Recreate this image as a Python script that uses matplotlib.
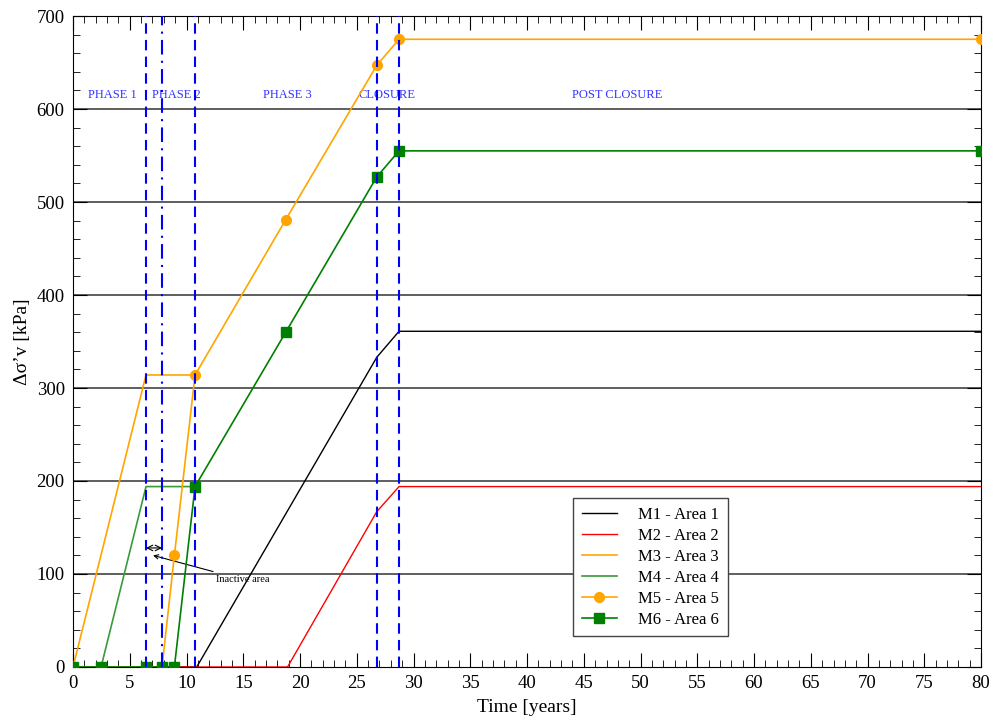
import matplotlib.pyplot as plt
from matplotlib.ticker import MultipleLocator

plt.rcParams['font.family'] = ['Liberation Serif', 'DejaVu Serif']

# phase boundaries [years]
t_dash = [6.43, 10.75, 26.76, 28.72]
t_dashdot = 7.84

t_m1 = [0, 10.9, 26.76, 28.72, 80]
m1 = [0, 0, 333, 361, 361]
t_m2 = [0, 18.9, 26.76, 28.72, 80]
m2 = [0, 0, 167, 194, 194]
t_m3 = [0, 6.43, 10.75]
m3 = [0, 314, 314]
t_m4 = [0, 2.47, 6.43, 10.75]
m4 = [0, 0, 194, 194]
t_m5 = [0, 2.47, 6.43, 7.84, 8.93, 10.75, 18.74, 26.76, 28.72, 80]
m5 = [0, 0, 0, 0, 120, 314, 481, 647, 675, 675]
t_m6 = [0, 2.47, 6.43, 7.84, 8.93, 10.75, 18.74, 26.76, 28.72, 80]
m6 = [0, 0, 0, 0, 0, 194, 360, 527, 555, 555]

phases = ['PHASE 1', 'PHASE 2', 'PHASE 3', 'CLOSURE', 'POST CLOSURE']
phase_x = [3.5, 9.1, 18.9, 27.7, 47.9]

fig = plt.figure(figsize=(9.95, 7.22), dpi=100)
ax = fig.add_axes([0.0734, 0.0762, 0.9126, 0.9016])

for y in range(100, 700, 100):
    ax.axhline(y, color='#333333', lw=1.1, zorder=1)

ax.plot(t_m1, m1, color='black', lw=1, label='M1 - Area 1', zorder=3)
ax.plot(t_m2, m2, color='red', lw=1, label='M2 - Area 2', zorder=3)
ax.plot(t_m3, m3, color='orange', lw=1.2, label='M3 - Area 3', zorder=3)
ax.plot(t_m4, m4, color='#3a9a3a', lw=1.2, label='M4 - Area 4', zorder=3)
ax.plot(t_m5, m5, color='orange', lw=1.2, marker='o', ms=7,
        label='M5 - Area 5', zorder=4)
ax.plot(t_m6, m6, color='green', lw=1.2, marker='s', ms=7,
        label='M6 - Area 6', zorder=5)

for t in t_dash:
    ax.axvline(t, color='blue', lw=1.5, ls=(0, (5, 3)), zorder=6)
ax.axvline(t_dashdot, color='blue', lw=1.5, ls=(0, (7, 3, 1, 3)), zorder=6)

for name, x in zip(phases, phase_x):
    ax.text(x, 615, name, color='#3333ff', fontsize=9, ha='center', va='center')

ax.annotate('', xy=(t_dash[0], 128), xytext=(t_dashdot, 128),
            arrowprops=dict(arrowstyle='<->', color='black', lw=0.8,
                            shrinkA=0, shrinkB=0))
ax.annotate('Inactive area', xy=(7.05, 120), xytext=(12.6, 94),
            fontsize=7.5, va='center',
            arrowprops=dict(arrowstyle='->', color='black', lw=0.8, shrinkB=0))

ax.set_xlim(0, 80)
ax.set_ylim(0, 700)
ax.xaxis.set_major_locator(MultipleLocator(5))
ax.xaxis.set_minor_locator(MultipleLocator(1))
ax.yaxis.set_major_locator(MultipleLocator(100))
ax.yaxis.set_minor_locator(MultipleLocator(20))
ax.tick_params(which='both', direction='in', top=True, right=True, labelsize=13.5)
ax.tick_params(which='major', length=10, pad=6)
ax.tick_params(which='minor', length=5)
ax.set_xlabel('Time [years]', fontsize=14, labelpad=5)
ax.set_ylabel('Δσ’v [kPa]', fontsize=14, labelpad=4)

leg = ax.legend(loc='lower left', bbox_to_anchor=(0.551, 0.0476), fontsize=12,
                fancybox=False, edgecolor='#444444', framealpha=1,
                handlelength=2.1, handletextpad=1.3, borderpad=0.5,
                labelspacing=0.3, borderaxespad=0)
leg.get_frame().set_linewidth(1)

fig.savefig('out.png', dpi=100)
